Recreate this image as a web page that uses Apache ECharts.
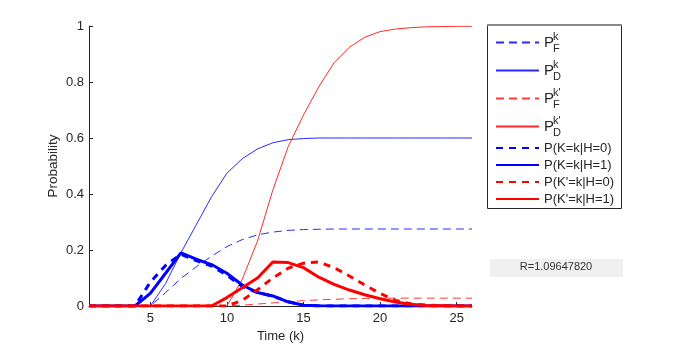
<!DOCTYPE html>
<html>
<head>
<meta charset="utf-8">
<script src="https://cdn.jsdelivr.net/npm/echarts@6/dist/echarts.min.js"></script>
<style>
  html, body { margin: 0; padding: 0; background: #fff; }
  #chart { width: 689px; height: 346px; }
</style>
</head>
<body>
<div id="chart"></div>
<script>
// time steps k
const steps = [1, 2, 3, 4, 5, 6, 7, 8, 9, 10, 11, 12, 13, 14, 15, 16, 17, 18, 19, 20, 21, 22, 23, 24, 25, 26];

// thin curves (cumulative)
const pFk = [0, 0, 0, 0, 0, 0.048, 0.098, 0.14, 0.178, 0.212, 0.237, 0.254, 0.264, 0.27, 0.273, 0.274, 0.275, 0.275, 0.275, 0.275, 0.275, 0.275, 0.275, 0.275, 0.275, 0.275];
const pDk = [0, 0, 0, 0, 0, 0.08, 0.19, 0.29, 0.39, 0.474, 0.526, 0.561, 0.583, 0.594, 0.598, 0.6, 0.6, 0.6, 0.6, 0.6, 0.6, 0.6, 0.6, 0.6, 0.6, 0.6];
const pFk2 = [0, 0, 0, 0, 0, 0, 0, 0, 0, 0, 0.003, 0.007, 0.011, 0.015, 0.019, 0.022, 0.024, 0.026, 0.027, 0.028, 0.028, 0.028, 0.028, 0.028, 0.028, 0.028];
const pDk2 = [0, 0, 0, 0, 0, 0, 0, 0, 0, 0, 0.095, 0.232, 0.414, 0.569, 0.682, 0.783, 0.869, 0.924, 0.96, 0.98, 0.989, 0.994, 0.997, 0.998, 0.999, 0.999];

// thick curves (distributions)
const kH0 = [0, 0, 0, 0, 0.085, 0.145, 0.185, 0.162, 0.143, 0.11, 0.07, 0.048, 0.035, 0.015, 0.003, 0, 0, 0, 0, 0, 0, 0, 0, 0, 0, 0];
const kH1 = [0, 0, 0, 0, 0.045, 0.117, 0.19, 0.167, 0.148, 0.117, 0.075, 0.048, 0.036, 0.015, 0.003, 0.001, 0, 0, 0, 0, 0, 0, 0, 0, 0, 0];
const k2H0 = [0, 0, 0, 0, 0, 0, 0, 0, 0, 0, 0.02, 0.058, 0.1, 0.135, 0.153, 0.157, 0.137, 0.107, 0.075, 0.045, 0.02, 0.008, 0.003, 0.001, 0, 0];
const k2H1 = [0, 0, 0, 0, 0, 0, 0, 0, 0, 0.03, 0.065, 0.1, 0.157, 0.155, 0.137, 0.103, 0.077, 0.057, 0.04, 0.026, 0.014, 0.006, 0.002, 0.001, 0, 0];

const xTicks = [5, 10, 15, 20, 25];
const R_TEXT = 'R=1.09647820';

const FONT = 'Liberation Sans';
const INK = '#262626';

function pairs(vals) {
  return steps.map((k, i) => [k, vals[i]]);
}

function line(name, vals, color, width, type) {
  return {
    name: name,
    type: 'line',
    data: pairs(vals),
    symbol: 'none',
    animation: false,
    lineStyle: { color: color, width: width, type: type },
    itemStyle: { color: color }
  };
}

// legend labels: superscript line, P, subscript line
const thinLabels = {
  'PFk': '{g| }{sup|k}\n{P|P}\n{g| }{sub|F}',
  'PDk': '{g| }{sup|k}\n{P|P}\n{g| }{sub|D}',
  "PFk'": "{g| }{sup|k'}\n{P|P}\n{g| }{sub|F}",
  "PDk'": "{g| }{sup|k'}\n{P|P}\n{g| }{sub|D}"
};

const chart = echarts.init(document.getElementById('chart'), null, { renderer: 'canvas' });

chart.setOption({
  backgroundColor: '#fff',
  textStyle: { fontFamily: FONT },
  grid: { left: 89, right: 217, top: 26, bottom: 40, outerBoundsMode: 'none' },
  xAxis: {
    type: 'value',
    min: 1,
    max: 26,
    name: 'Time (k)',
    nameLocation: 'middle',
    nameGap: 24,
    nameMoveOverlap: false,
    nameTextStyle: { fontSize: 13, color: INK, fontFamily: FONT },
    axisLine: { show: true, lineStyle: { color: INK, width: 1 } },
    axisTick: { show: true, inside: true, length: 4, customValues: xTicks, lineStyle: { color: INK } },
    axisLabel: { customValues: xTicks, fontSize: 13, color: INK, margin: 6, fontFamily: FONT },
    splitLine: { show: false }
  },
  yAxis: {
    type: 'value',
    min: 0,
    max: 1,
    interval: 0.2,
    name: 'Probability',
    nameLocation: 'middle',
    nameGap: 29,
    nameMoveOverlap: false,
    nameTextStyle: { fontSize: 13.5, color: INK, fontFamily: FONT },
    axisLine: { show: true, lineStyle: { color: INK, width: 1 } },
    axisTick: { show: true, inside: true, length: 4, lineStyle: { color: INK } },
    axisLabel: { fontSize: 13, color: INK, margin: 5, fontFamily: FONT },
    splitLine: { show: false }
  },
  legend: [
    {
      data: ['PFk', 'PDk', "PFk'", "PDk'"],
      orient: 'vertical',
      left: 495,
      top: 31,
      padding: 0,
      itemWidth: 43,
      itemHeight: 12,
      itemGap: 5,
      selectedMode: false,
      itemStyle: { opacity: 0 },
      formatter: name => thinLabels[name],
      textStyle: {
        color: INK,
        fontFamily: FONT,
        rich: {
          P: { fontSize: 15, lineHeight: 6, color: INK, fontFamily: FONT },
          g: { fontSize: 11, width: 9, lineHeight: 6 },
          sup: { fontSize: 11, lineHeight: 6, color: INK, fontFamily: FONT },
          sub: { fontSize: 11, lineHeight: 6, color: INK, fontFamily: FONT }
        }
      }
    },
    {
      data: ['P(K=k|H=0)', 'P(K=k|H=1)', "P(K'=k|H=0)", "P(K'=k|H=1)"],
      orient: 'vertical',
      left: 495,
      top: 141,
      padding: 0,
      itemWidth: 43,
      itemHeight: 14,
      itemGap: 3,
      selectedMode: false,
      itemStyle: { opacity: 0 },
      textStyle: { fontSize: 13, lineHeight: 14, color: INK, fontFamily: FONT }
    }
  ],
  graphic: [
    {
      type: 'rect',
      shape: { x: 487.5, y: 25.5, width: 134, height: 183 },
      style: { fill: null, stroke: INK, lineWidth: 1 },
      silent: true
    },
    {
      type: 'line',
      shape: { x1: 487, y1: 25, x2: 622, y2: 25 },
      style: { stroke: '#8a8a8a', lineWidth: 2 },
      silent: true
    },
    {
      type: 'rect',
      shape: { x: 490, y: 259, width: 133, height: 18 },
      style: { fill: '#f0f0f0' },
      silent: true
    },
    {
      type: 'text',
      x: 556,
      y: 267,
      style: { text: R_TEXT, fontSize: 11, fontFamily: FONT, fill: '#333', align: 'center', verticalAlign: 'middle' },
      silent: true
    }
  ],
  series: [
    line('PFk', pFk, '#2a2aff', 1, [8, 5]),
    line('PDk', pDk, '#2a2aff', 1, 'solid'),
    line("PFk'", pFk2, '#ff3a3a', 1, [8, 5]),
    line("PDk'", pDk2, '#ff2a2a', 1, 'solid'),
    line('P(K=k|H=0)', kH0, '#0000ff', 3, [7, 6]),
    line('P(K=k|H=1)', kH1, '#0000ff', 3, 'solid'),
    line("P(K'=k|H=0)", k2H0, '#ff0000', 3, [7, 6]),
    line("P(K'=k|H=1)", k2H1, '#ff0000', 3, 'solid')
  ]
});
</script>
</body>
</html>
